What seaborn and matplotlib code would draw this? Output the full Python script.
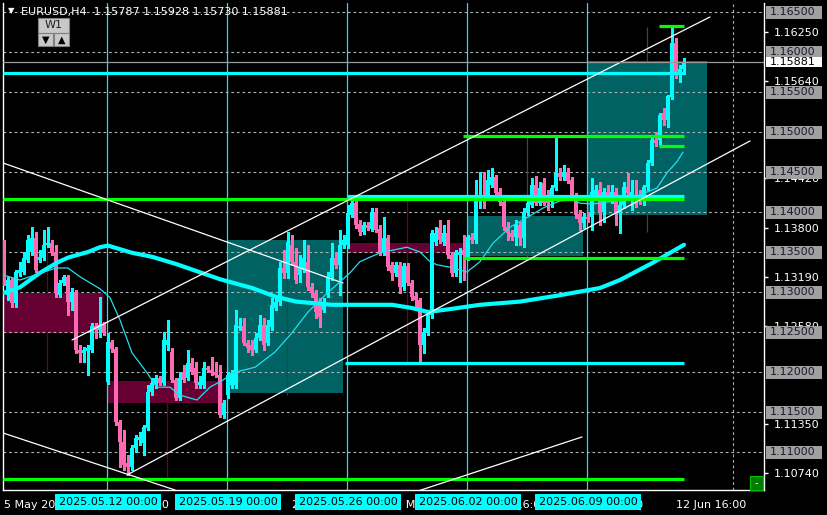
import matplotlib
matplotlib.use("Agg")
from matplotlib import pyplot as plt
from matplotlib.patches import Rectangle
from matplotlib import transforms
import seaborn as sns
import pandas as pd
import numpy as np

# EURUSD H4 candles, one week per line block (5 May 16:00 .. 13 Jun 00:00)
opens = [
    1.1361, 1.1296, 1.1315, 1.1286, 1.1324, 1.1325, 1.1340, 1.1350, 1.1368, 1.1340, 1.1343, 1.1359, 1.1361,
    1.1350, 1.1296, 1.1311, 1.1319, 1.1288, 1.1300, 1.1228, 1.1224, 1.1226, 1.1228, 1.1258, 1.1253, 1.1259,
    1.1188, 1.1238, 1.1229, 1.1138, 1.1113, 1.1086, 1.1081, 1.1105, 1.1115, 1.1111, 1.1130, 1.1175, 1.1184, 1.1193, 1.1186,
    1.1234, 1.1225, 1.1190, 1.1168, 1.1200, 1.1193, 1.1211, 1.1205, 1.1184, 1.1184, 1.1205, 1.1203, 1.1200, 1.1196, 1.1146,
    1.1171, 1.1184, 1.1184, 1.1255, 1.1258, 1.1236, 1.1234, 1.1228, 1.1243, 1.1259, 1.1236, 1.1256, 1.1280, 1.1288, 1.1330,
    1.1324, 1.1359, 1.1338, 1.1321, 1.1328, 1.1338, 1.1306, 1.1299, 1.1286, 1.1278, 1.1296, 1.1319, 1.1343, 1.1334, 1.1359,
    1.1359, 1.1396, 1.1411, 1.1385, 1.1375, 1.1384, 1.1379, 1.1400, 1.1379, 1.1349, 1.1368, 1.1334, 1.1324, 1.1334, 1.1306,
    1.1333, 1.1311, 1.1295, 1.1290, 1.1234, 1.1249, 1.1271, 1.1363, 1.1380, 1.1363, 1.1374, 1.1346, 1.1324, 1.1346, 1.1353,
    1.1343, 1.1369, 1.1365, 1.1419, 1.1421, 1.1419, 1.1434, 1.1444, 1.1425, 1.1413, 1.1381, 1.1374, 1.1369, 1.1384, 1.1368,
    1.1400, 1.1409, 1.1434, 1.1411, 1.1436, 1.1418, 1.1413, 1.1430, 1.1449, 1.1444, 1.1450, 1.1440, 1.1419, 1.1398, 1.1386,
    1.1394, 1.1394, 1.1419, 1.1428, 1.1400, 1.1425, 1.1415, 1.1425, 1.1399, 1.1409, 1.1431, 1.1421, 1.1421, 1.1421, 1.1419,
    1.1431, 1.1461, 1.1490, 1.1490, 1.1524, 1.1515, 1.1544, 1.1611, 1.1575, 1.15787,
]
highs = [
    1.1365, 1.1319, 1.1318, 1.1328, 1.1338, 1.1350, 1.1371, 1.1381, 1.1375, 1.1353, 1.1378, 1.1381, 1.1365,
    1.1359, 1.1315, 1.1321, 1.1321, 1.1305, 1.1303, 1.1234, 1.1231, 1.1234, 1.1261, 1.1261, 1.1294, 1.1263,
    1.1249, 1.1240, 1.1231, 1.1140, 1.1128, 1.1096, 1.1109, 1.1121, 1.1125, 1.1134, 1.1184, 1.1193, 1.1196, 1.1195, 1.1250,
    1.1265, 1.1230, 1.1193, 1.1200, 1.1209, 1.1228, 1.1218, 1.1213, 1.1195, 1.1213, 1.1208, 1.1219, 1.1213, 1.1209, 1.1165,
    1.1200, 1.1203, 1.1278, 1.1268, 1.1268, 1.1240, 1.1240, 1.1249, 1.1271, 1.1268, 1.1265, 1.1293, 1.1295, 1.1338, 1.1353,
    1.1375, 1.1371, 1.1355, 1.1346, 1.1365, 1.1359, 1.1311, 1.1303, 1.1293, 1.1293, 1.1325, 1.1361, 1.1350, 1.1378, 1.1371,
    1.1409, 1.1421, 1.1415, 1.1390, 1.1388, 1.1388, 1.1405, 1.1405, 1.1384, 1.1394, 1.1371, 1.1338, 1.1338, 1.1338, 1.1336,
    1.1336, 1.1315, 1.1299, 1.1293, 1.1255, 1.1275, 1.1378, 1.1381, 1.1390, 1.1384, 1.1390, 1.1350, 1.1353, 1.1355, 1.1371,
    1.1371, 1.1374, 1.1440, 1.1450, 1.1450, 1.1453, 1.1455, 1.1446, 1.1430, 1.1415, 1.1388, 1.1378, 1.1390, 1.1388, 1.1405,
    1.1418, 1.1443, 1.1445, 1.1438, 1.1443, 1.1428, 1.1434, 1.1493, 1.1455, 1.1459, 1.1455, 1.1444, 1.1424, 1.1403, 1.1399,
    1.1400, 1.1443, 1.1434, 1.1438, 1.1430, 1.1434, 1.1434, 1.1430, 1.1415, 1.1438, 1.1449, 1.1440, 1.1440, 1.1428, 1.1434,
    1.1465, 1.1496, 1.1500, 1.1524, 1.1530, 1.1546, 1.1631, 1.1618, 1.1584, 1.15928,
]
lows = [
    1.1309, 1.1290, 1.1281, 1.1281, 1.1320, 1.1323, 1.1338, 1.1346, 1.1325, 1.1338, 1.1340, 1.1356, 1.1346,
    1.1294, 1.1294, 1.1309, 1.1271, 1.1278, 1.1224, 1.1213, 1.1213, 1.1196, 1.1225, 1.1243, 1.1244, 1.1246,
    1.1185, 1.1225, 1.1134, 1.1081, 1.1078, 1.1071, 1.1078, 1.1100, 1.1109, 1.1096, 1.1128, 1.1171, 1.1180, 1.1184, 1.1184,
    1.1228, 1.1188, 1.1165, 1.1165, 1.1188, 1.1190, 1.1198, 1.1180, 1.1180, 1.1180, 1.1200, 1.1196, 1.1194, 1.1144, 1.1143,
    1.1168, 1.1180, 1.1180, 1.1253, 1.1234, 1.1225, 1.1221, 1.1225, 1.1240, 1.1228, 1.1234, 1.1253, 1.1278, 1.1284, 1.1318,
    1.1318, 1.1334, 1.1311, 1.1313, 1.1325, 1.1303, 1.1294, 1.1268, 1.1256, 1.1275, 1.1294, 1.1315, 1.1330, 1.1296, 1.1355,
    1.1355, 1.1394, 1.1380, 1.1371, 1.1373, 1.1378, 1.1376, 1.1375, 1.1346, 1.1346, 1.1328, 1.1315, 1.1320, 1.1299, 1.1303,
    1.1309, 1.1290, 1.1278, 1.1213, 1.1224, 1.1246, 1.1268, 1.1359, 1.1361, 1.1359, 1.1343, 1.1320, 1.1320, 1.1313, 1.1315,
    1.1340, 1.1361, 1.1361, 1.1405, 1.1405, 1.1415, 1.1431, 1.1421, 1.1409, 1.1378, 1.1365, 1.1365, 1.1359, 1.1359, 1.1356,
    1.1396, 1.1406, 1.1409, 1.1409, 1.1409, 1.1403, 1.1406, 1.1428, 1.1440, 1.1440, 1.1436, 1.1415, 1.1393, 1.1378, 1.1380,
    1.1388, 1.1378, 1.1415, 1.1384, 1.1388, 1.1415, 1.1411, 1.1384, 1.1374, 1.1405, 1.1420, 1.1403, 1.1406, 1.1410, 1.1409,
    1.1428, 1.1459, 1.1482, 1.1484, 1.1509, 1.1506, 1.1541, 1.1568, 1.1562, 1.15730,
]
closes = [
    1.1315, 1.1315, 1.1286, 1.1325, 1.1328, 1.1343, 1.1365, 1.1368, 1.1328, 1.1344, 1.1359, 1.1361, 1.1349,
    1.1299, 1.1311, 1.1319, 1.1288, 1.1300, 1.1228, 1.1224, 1.1228, 1.1230, 1.1258, 1.1253, 1.1259, 1.1249,
    1.1238, 1.1229, 1.1138, 1.1113, 1.1084, 1.1081, 1.1105, 1.1118, 1.1119, 1.1131, 1.1175, 1.1186, 1.1193, 1.1186, 1.1240,
    1.1240, 1.1190, 1.1168, 1.1193, 1.1190, 1.1211, 1.1200, 1.1186, 1.1188, 1.1205, 1.1203, 1.1199, 1.1196, 1.1146, 1.1161,
    1.1196, 1.1199, 1.1259, 1.1258, 1.1236, 1.1230, 1.1228, 1.1243, 1.1259, 1.1234, 1.1259, 1.1284, 1.1288, 1.1330, 1.1324,
    1.1363, 1.1338, 1.1315, 1.1330, 1.1343, 1.1306, 1.1299, 1.1275, 1.1269, 1.1286, 1.1319, 1.1343, 1.1334, 1.1359, 1.1365,
    1.1399, 1.1411, 1.1384, 1.1375, 1.1384, 1.1380, 1.1400, 1.1378, 1.1349, 1.1368, 1.1331, 1.1324, 1.1334, 1.1306, 1.1333,
    1.1311, 1.1294, 1.1290, 1.1234, 1.1250, 1.1271, 1.1374, 1.1374, 1.1365, 1.1374, 1.1346, 1.1324, 1.1349, 1.1350, 1.1346,
    1.1369, 1.1365, 1.1421, 1.1421, 1.1419, 1.1440, 1.1444, 1.1424, 1.1413, 1.1381, 1.1374, 1.1369, 1.1384, 1.1368, 1.1400,
    1.1411, 1.1434, 1.1411, 1.1430, 1.1411, 1.1411, 1.1430, 1.1449, 1.1444, 1.1450, 1.1439, 1.1419, 1.1396, 1.1386, 1.1394,
    1.1391, 1.1425, 1.1428, 1.1400, 1.1425, 1.1421, 1.1425, 1.1399, 1.1409, 1.1431, 1.1424, 1.1425, 1.1419, 1.1418, 1.1431,
    1.1461, 1.1490, 1.1486, 1.1521, 1.1515, 1.1545, 1.1611, 1.1575, 1.1579, 1.15881,
]

# slow (thick) and fast (thin) moving averages, read at candle indices
slow_ma_k = [0, 4, 9, 13, 16, 21, 24, 26, 28, 32, 37, 43, 54, 62, 68, 73, 82, 89, 97, 102, 106, 112, 119, 129, 139, 149, 154, 162, 170]
slow_ma = [1.1299, 1.1306, 1.1324, 1.1336, 1.1343, 1.1350, 1.1356, 1.1358, 1.1355, 1.1349, 1.1344, 1.1335, 1.1316, 1.1305,
           1.1294, 1.1288, 1.1284, 1.1284, 1.1284, 1.1280, 1.1275, 1.1279, 1.1284, 1.1288, 1.1296, 1.1305, 1.1315, 1.1336, 1.1359]
fast_ma_k = [0, 4, 13, 16, 19, 24, 26.5, 29, 32, 35.75, 38.25, 41.5, 44, 48.25, 51.5, 54.75, 57.25, 62.75, 67.75, 72, 76,
             80.25, 84.5, 86.5, 89, 94, 100.75, 104, 106.5, 108.25, 111.5, 115.75, 119, 122.25, 126.5, 130.75, 134.75,
             139, 142.25, 144, 147.25, 151.5, 157.25, 163.25, 165.75, 168.25, 169.75]
fast_ma = [1.1321, 1.1315, 1.1330, 1.1330, 1.1319, 1.1304, 1.1293, 1.1265, 1.1224, 1.1199, 1.1181, 1.1181, 1.1171, 1.1165,
           1.1181, 1.1190, 1.1199, 1.1206, 1.1225, 1.1249, 1.1275, 1.1296, 1.1315, 1.1324, 1.1338, 1.1349, 1.1356, 1.1350,
           1.1338, 1.1334, 1.1331, 1.1325, 1.1338, 1.1361, 1.1381, 1.1393, 1.1405, 1.1414, 1.1415, 1.1411, 1.1410, 1.1413,
           1.1418, 1.1430, 1.1449, 1.1463, 1.1475]

# week separators and bottom axis ticks
week_k = [26, 56, 86, 116, 146]
week_labels = ["2025.05.12 00:00", "2025.05.19 00:00", "2025.05.26 00:00", "2025.06.02 00:00", "2025.06.09 00:00"]
tick_k = [0, 24, 48, 72, 96, 120, 144, 168]
tick_labels = ["5 May 2025", "9 May 16:00", "15 May 16:00", "21 May 16:00", "27 May 16:00",
               "2 Jun 16:00", "6 Jun 16:00", "12 Jun 16:00"]

# zones: (k start, k end, top price, bottom price, kind)
zones = [
    (-0.25, 24.75, 1.12988, 1.12488, "supply"),
    (25.75, 54.75, 1.11888, 1.11613, "supply"),
    (85.75, 114.75, 1.13613, 1.13488, "supply"),
    (56.0, 84.75, 1.13650, 1.11738, "demand"),
    (115.75, 144.75, 1.13950, 1.13450, "demand"),
    (145.75, 175.75, 1.15888, 1.13963, "demand"),
]
# weekly range markers: (k, high, low, colour)
range_marks = [
    (10.75, 1.13800, 1.11988, "#66003a"), (40.75, 1.11625, 1.10650, "#66003a"),
    (70.75, 1.13750, 1.11713, "#1f4a4a"), (100.75, 1.14150, 1.12125, "#66003a"),
    (130.75, 1.14938, 1.13438, "#2a4f4f"), (160.75, 1.16313, 1.13750, "#2a4f4f"),
]
# horizontal levels: (price, k start, k end, colour)
levels = [
    (1.15737, -0.25, 170, "#00ffff"),
    (1.12113, 85.25, 170, "#00ffff"),
    (1.14200, 85.75, 170, "#00ffff"),
    (1.14163, -0.25, 170, "#00ff00"),
    (1.14950, 114.75, 170, "#00ff00"),
    (1.14825, 163.75, 170, "#00ff00"),
    (1.16325, 163.75, 170, "#00ff00"),
    (1.13425, 114.75, 170, "#00ff00"),
    (1.10663, -0.25, 170, "#00ff00"),
]
# trend lines: (k0, p0, k1, p1)
trendlines = [
    (17.0, 1.12400, 176.5, 1.16438),
    (30.75, 1.10713, 186.5, 1.14888),
    (-0.25, 1.14613, 84.75, 1.13113),
    (-0.25, 1.11238, 42.75, 1.10525),
    (102.75, 1.10500, 144.5, 1.11188),
]
round_levels = [1.165, 1.160, 1.155, 1.150, 1.145, 1.140, 1.135, 1.130, 1.125, 1.120, 1.115, 1.110]
axis_levels = [1.1625, 1.1564, 1.1442, 1.1380, 1.1319, 1.1258, 1.1135, 1.1074]
bid = 1.15881

df = pd.DataFrame({"o": opens, "h": highs, "l": lows, "c": closes})
df["k"] = np.arange(len(df))
df["bull"] = df.c >= df.o

sns.set_theme(style="dark", rc={"axes.facecolor": "black", "figure.facecolor": "black"})
plt.rcParams["font.family"] = ["DejaVu Sans"]

W, H = 828, 515
fig = plt.figure(figsize=(W / 100, H / 100), dpi=100)
ax = fig.add_axes([3 / W, (H - 490) / H, 761 / W, 487 / H])
ax.set_facecolor("black")
ax.set_xlim(-0.25, 190)
ax.set_ylim(1.10525, 1.166125)
ax.grid(False)

for k0, k1, top, bot, kind in zones:
    fc = "#660033" if kind == "supply" else "#006262"
    ax.add_patch(Rectangle((k0, bot), k1 - k0, top - bot, fc=fc, ec="none", zorder=1))

for lv in round_levels:
    ax.axhline(lv, color="#b0b0b0", lw=0.8, dashes=(2.5, 2.5), zorder=1.5)
ax.axvline(182.25, color="#b0b0b0", lw=0.8, dashes=(2.5, 2.5), zorder=1.5)

for k, hi, lo, col in range_marks:
    ax.vlines(k, lo, hi, color=col, lw=0.9, zorder=1.6)

for k in week_k:
    ax.axvline(k - 0.15, color="#20e0f0", lw=0.9, zorder=1.7)

# candles
bull_c, bear_c = "#00ffff", "#ff69b4"
cols = np.where(df.bull, bull_c, bear_c)
ax.vlines(df.k, df.l, df.h, colors=cols, lw=1.0, zorder=3, antialiased=False)
body = np.maximum((df.c - df.o).abs(), 0.00012)
ax.bar(df.k, body, bottom=np.minimum(df.o, df.c), width=0.78, color=cols, lw=0, zorder=3,
       antialiased=False)

# moving averages
sns.lineplot(x=slow_ma_k, y=slow_ma, ax=ax, color="#00ffff", lw=3.0, zorder=4, legend=False)
sns.lineplot(x=fast_ma_k, y=fast_ma, ax=ax, color="#20e0f0", lw=0.9, zorder=4, legend=False)

for p, k0, k1, col in levels:
    ax.hlines(p, k0, k1, color=col, lw=2.3, zorder=5)

for k0, p0, k1, p1 in trendlines:
    ax.plot([k0, k1], [p0, p1], color="white", lw=0.9, zorder=5)

ax.axhline(bid, color="#9a9a9a", lw=0.9, zorder=5)

# axes frame
for side in ["left", "bottom", "right"]:
    ax.spines[side].set_color("white")
    ax.spines[side].set_linewidth(1)
ax.spines["top"].set_visible(False)

ax.yaxis.tick_right()
ax.set_yticks(axis_levels)
ax.set_yticklabels([f"{v:.5f}" for v in axis_levels])
ax.tick_params(axis="y", colors="white", labelcolor="white", length=3, width=1, labelsize=8, pad=4, direction="out")
ax.set_xticks(tick_k)
ax.set_xticklabels(tick_labels, ha="left")
ax.tick_params(axis="x", colors="white", labelcolor="white", length=4, width=1, labelsize=8, pad=3, direction="out")
ax.set_xlabel("")
ax.set_ylabel("")

# boxed price labels on the right scale
ytr = transforms.blended_transform_factory(fig.transFigure, ax.transData)
ppx = 1 / 8000
for lv in round_levels:
    ax.add_patch(Rectangle((766 / W, lv - 6.5 * ppx), 56 / W, 13 * ppx, transform=ytr,
                           fc="#a0a0a0", ec="none", clip_on=False, zorder=10))
    ax.text(770 / W, lv, f"{lv:.5f}", transform=ytr, color="#1a1a30", fontsize=8,
            ha="left", va="center", clip_on=False, zorder=11)
ax.add_patch(Rectangle((766 / W, bid - 5 * ppx), 56 / W, 10 * ppx, transform=ytr,
                       fc="white", ec="none", clip_on=False, zorder=10))
ax.text(770 / W, bid, f"{bid:.5f}", transform=ytr, color="black", fontsize=8,
        ha="left", va="center", clip_on=False, zorder=11)

# week separator labels
xtr = transforms.blended_transform_factory(ax.transData, fig.transFigure)
for k, lab in zip(week_k, week_labels):
    ax.text(k, (H - 502) / H, lab, transform=xtr, color="black", fontsize=8, ha="center", va="center",
            clip_on=False, zorder=12, bbox=dict(boxstyle="square,pad=0.3", fc="#00ffff", ec="none"))

# header
fig.text(8 / W, 1 - 11 / H, "▼", color="white", fontsize=6, va="center")
fig.text(21 / W, 1 - 12 / H, "EURUSD,H4  1.15787 1.15928 1.15730 1.15881", color="white", fontsize=8, va="center")
fig.patches.append(Rectangle((38 / W, 1 - 33 / H), 31 / W, 15 / H, transform=fig.transFigure,
                             fc="#c8c8c8", ec="#808080", lw=0.8))
fig.text(53.5 / W, 1 - 25.5 / H, "W1", color="#202020", fontsize=8, ha="center", va="center")
for x0, sym in [(38, "▼"), (54, "▲")]:
    fig.patches.append(Rectangle((x0 / W, 1 - 46 / H), 15 / W, 13 / H, transform=fig.transFigure,
                                 fc="#c8c8c8", ec="#808080", lw=0.8))
    fig.text((x0 + 7.5) / W, 1 - 39.5 / H, sym, color="black", fontsize=7, ha="center", va="center")

fig.patches.append(Rectangle((750 / W, (H - 490) / H), 13 / W, 14 / H, transform=fig.transFigure,
                             fc="#007a00", ec="#00c000", lw=0.8, zorder=20))
fig.text(756.5 / W, (H - 483) / H, "-", color="white", fontsize=7, ha="center", va="center", zorder=21)

fig.savefig("out.png", dpi=100, facecolor="black")
